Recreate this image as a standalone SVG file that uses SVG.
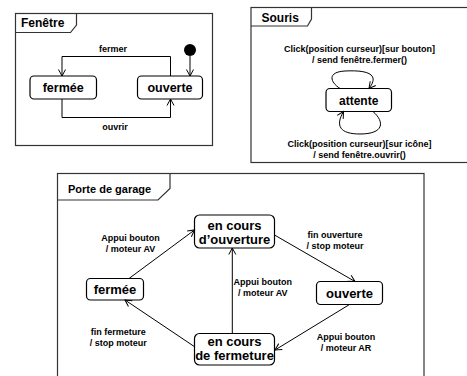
<svg xmlns="http://www.w3.org/2000/svg" width="467" height="376" viewBox="0 0 467 376">
<style>
.frame{fill:none;stroke:#333;stroke-width:1.2}
.node{fill:#fff;stroke:#000;stroke-width:1.2}
.title{font-family:"Liberation Sans",Arial,sans-serif;font-weight:bold;fill:#000}
.ntext{font-family:"Liberation Sans",Arial,sans-serif;font-weight:bold;fill:#000;text-anchor:middle}
.lbl{font-family:"Liberation Sans",Arial,sans-serif;font-weight:bold;font-size:9px;fill:#000;text-anchor:middle}
.edge{fill:none;stroke:#000;stroke-width:1}
</style>
<defs>
<marker id="arr" markerUnits="userSpaceOnUse" markerWidth="10" markerHeight="10" viewBox="0 0 10 10" refX="8" refY="5" orient="auto">
<path d="M1.5,1.5 L8,5 L1.5,8.5" fill="none" stroke="#000" stroke-width="1"/>
</marker>
</defs>
<rect width="467" height="376" fill="#fff"/>

<!-- Frames -->
<g id="frame-fenetre">
<rect class="frame" x="15.5" y="13.5" width="197" height="132"/>
<path class="frame" d="M15.5,32.5 H70.5 L76.5,25 V13.5"/>
<text class="title" x="21" y="27" font-size="12">Fenêtre</text>
</g>
<g id="frame-souris">
<rect class="frame" x="251" y="7.5" width="230" height="155"/>
<path class="frame" d="M251,26 H307.5 L311.5,19 V7.5"/>
<text class="title" x="261.5" y="22" font-size="12">Souris</text>
</g>
<g id="frame-garage">
<rect class="frame" x="57.5" y="173.5" width="366.5" height="220"/>
<path class="frame" d="M57.5,200 H158 L170,188.5 V173.5"/>
<text class="title" x="68" y="193" font-size="11">Porte de garage</text>
</g>

<!-- Fenêtre nodes -->
<g id="f-initial"><circle cx="190" cy="50" r="6" fill="#000"/></g>
<g id="f-fermee">
<rect class="node" x="30" y="76" width="66.5" height="23" rx="4"/>
<text class="ntext" x="63.2" y="92" font-size="12.5">fermée</text>
</g>
<g id="f-ouverte">
<rect class="node" x="137.5" y="76" width="65" height="23" rx="4"/>
<text class="ntext" x="170" y="92" font-size="12.5">ouverte</text>
</g>

<!-- Souris node -->
<g id="s-attente">
<rect class="node" x="326" y="88.5" width="65.5" height="23" rx="4"/>
<text class="ntext" x="358.7" y="104.5" font-size="12">attente</text>
</g>

<!-- Garage nodes -->
<g id="g-fermee">
<rect class="node" x="86.5" y="278.5" width="57" height="21.5" rx="4"/>
<text class="ntext" x="115" y="294" font-size="13">fermée</text>
</g>
<g id="g-ouverture">
<rect class="node" x="194.5" y="215" width="80" height="33" rx="5"/>
<text class="ntext" x="234.5" y="230" font-size="13">en cours</text>
<text class="ntext" x="234.5" y="244" font-size="13">d’ouverture</text>
</g>
<g id="g-fermeture">
<rect class="node" x="194.5" y="333.5" width="80" height="31.5" rx="5"/>
<text class="ntext" x="234.5" y="346" font-size="13">en cours</text>
<text class="ntext" x="234.5" y="360" font-size="13">de fermeture</text>
</g>
<g id="g-ouverte">
<rect class="node" x="316.5" y="281.5" width="66" height="23" rx="4"/>
<text class="ntext" x="349.5" y="298" font-size="13">ouverte</text>
</g>

<!-- Connectors -->
<g id="connectors">
<path class="edge" d="M190,56 V76" marker-end="url(#arr)"/>
<path class="edge" d="M170.5,76 V56.5 H62 V76" marker-end="url(#arr)"/>
<path class="edge" d="M62,99 V117.5 H170.5 V99" marker-end="url(#arr)"/>
<path class="edge" d="M340,88.5 C330,82 327,72 345,71 C365,70 381,73 369,88.5" marker-end="url(#arr)"/>
<path class="edge" d="M373,111.5 C385,122 384,134 360,134 C340,134 335,126 343.5,111.5" marker-end="url(#arr)"/>
<path class="edge" d="M129,278.5 L194.5,230" marker-end="url(#arr)"/>
<path class="edge" d="M195,347 L125,300" marker-end="url(#arr)"/>
<path class="edge" d="M232.3,333.5 V248" marker-end="url(#arr)" stroke="#555" stroke-width="1.3"/>
<path class="edge" d="M274.5,235 L355,281.5" marker-end="url(#arr)"/>
<path class="edge" d="M349.5,304.5 L275,350" marker-end="url(#arr)"/>
</g>

<!-- Labels -->
<g id="labels">
<text class="lbl" x="113" y="52">fermer</text>
<text class="lbl" x="115" y="130">ouvrir</text>
<text class="lbl" x="359.5" y="52">Click(position curseur)[sur bouton]</text>
<text class="lbl" x="359.5" y="63">/ send fenêtre.fermer()</text>
<text class="lbl" x="359.5" y="147">Click(position curseur)[sur icône]</text>
<text class="lbl" x="359.5" y="158">/ send fenêtre.ouvrir()</text>
<text class="lbl" x="130.5" y="241">Appui bouton</text>
<text class="lbl" x="130.5" y="252">/ moteur AV</text>
<text class="lbl" x="118.3" y="335">fin fermeture</text>
<text class="lbl" x="118.3" y="346">/ stop moteur</text>
<text class="lbl" x="262.8" y="285">Appui bouton</text>
<text class="lbl" x="262.8" y="296">/ moteur AV</text>
<text class="lbl" x="335" y="237.5">fin ouverture</text>
<text class="lbl" x="335" y="248.5">/ stop moteur</text>
<text class="lbl" x="346" y="340">Appui bouton</text>
<text class="lbl" x="346" y="351">/ moteur AR</text>
</g>
</svg>
